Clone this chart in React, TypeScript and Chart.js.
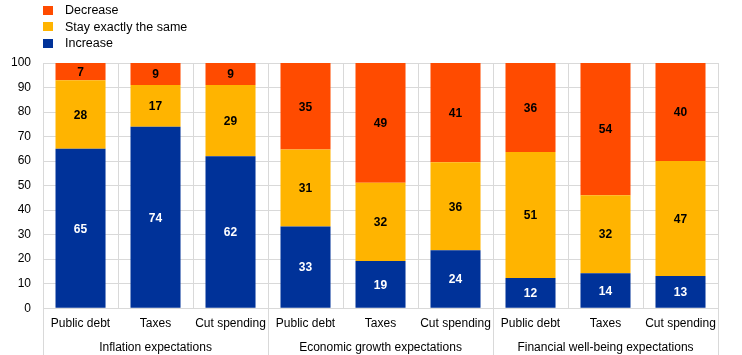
import React, { useEffect, useRef } from "react";
import { Chart, registerables } from "chart.js";

Chart.register(...registerables);

const categories = [
  "Public debt", "Taxes", "Cut spending",
  "Public debt", "Taxes", "Cut spending",
  "Public debt", "Taxes", "Cut spending",
];
const groupLabels = [
  "Inflation expectations",
  "Economic growth expectations",
  "Financial well-being expectations",
];
const increaseValues = [65, 74, 62, 33.3, 19.2, 23.6, 12.3, 14.3, 13.1];
const sameValues = [28, 17, 29, 31.4, 32, 35.9, 51.4, 31.8, 46.9];
const decreaseValues = [7, 9, 9, 35.3, 48.8, 40.5, 36.3, 53.9, 40];
const seriesNames = ["Decrease", "Stay exactly the same", "Increase"];
const yTicks = [0, 10, 20, 30, 40, 50, 60, 70, 80, 90, 100];

const COLORS = { inc: "#003299", same: "#FFB400", dec: "#FF4B00" };
const FONT = "'Liberation Sans', Arial, sans-serif";

const valueLabels = {
  id: "valueLabels",
  afterDatasetsDraw(chart: any) {
    const ctx = chart.ctx;
    ctx.save();
    ctx.font = `bold 12px ${FONT}`;
    ctx.textAlign = "center";
    ctx.textBaseline = "middle";
    chart.data.datasets.forEach((ds: any, di: number) => {
      const meta = chart.getDatasetMeta(di);
      meta.data.forEach((bar: any, i: number) => {
        const v = ds.data[i];
        const y = (bar.y + bar.base) / 2;
        ctx.fillStyle = ds.label === "Increase" ? "#ffffff" : "#000000";
        ctx.fillText(String(Math.round(v)), bar.x, y + 1);
      });
    });
    ctx.restore();
  },
};

const groupSeparators = {
  id: "groupSeparators",
  afterDraw(chart: any) {
    const ctx = chart.ctx;
    const x = chart.scales.x;
    const n = categories.length;
    const w = (x.right - x.left) / n;
    ctx.save();
    ctx.strokeStyle = "#d9d9d9";
    ctx.lineWidth = 1;
    for (let b = 0; b <= n; b += 3) {
      const px = Math.round(x.left + b * w) + 0.5;
      ctx.beginPath();
      ctx.moveTo(px, chart.chartArea.bottom);
      ctx.lineTo(px, chart.height);
      ctx.stroke();
    }
    ctx.restore();
  },
};

export default function App() {
  const ref = useRef<HTMLCanvasElement>(null);
  useEffect(() => {
    if (!ref.current) return;
    const chart = new Chart(ref.current, {
      type: "bar",
      data: {
        labels: categories,
        datasets: [
          { label: "Increase", data: increaseValues, backgroundColor: COLORS.inc },
          { label: "Stay exactly the same", data: sameValues, backgroundColor: COLORS.same },
          { label: "Decrease", data: decreaseValues, backgroundColor: COLORS.dec },
        ],
      },
      options: {
        animation: false,
        responsive: false,
        maintainAspectRatio: false,
        layout: { padding: { top: 63, left: -1, right: 24, bottom: -2 } },
        datasets: { bar: { barPercentage: 0.667, categoryPercentage: 1 } },
        plugins: { legend: { display: false }, tooltip: { enabled: false } },
        scales: {
          x: {
            stacked: true,
            grid: { offset: true, color: "#d9d9d9", drawTicks: false },
            border: { color: "#d9d9d9" },
            ticks: { color: "#000", font: { family: FONT, size: 12 }, padding: 8, maxRotation: 0, autoSkip: false },
          },
          x2: {
            type: "category",
            labels: groupLabels,
            position: "bottom",
            grid: { display: false, drawTicks: false },
            border: { display: false },
            ticks: { color: "#000", font: { family: FONT, size: 12 }, padding: 2, maxRotation: 0 },
          },
          y: {
            stacked: true,
            min: 0,
            max: 100,
            afterBuildTicks: (s: any) => { s.ticks = yTicks.map((v) => ({ value: v })); },
            grid: { color: "#d9d9d9", drawTicks: false },
            border: { color: "#d9d9d9" },
            ticks: { color: "#000", font: { family: FONT, size: 12 }, padding: 12 },
          },
        },
      },
      plugins: [valueLabels, groupSeparators],
    });
    return () => chart.destroy();
  }, []);

  const legendColors: Record<string, string> = {
    "Decrease": COLORS.dec,
    "Stay exactly the same": COLORS.same,
    "Increase": COLORS.inc,
  };

  return (
    <div style={{ position: "fixed", left: 0, top: 0, width: 742, height: 355, background: "#fff" }}>
      <canvas ref={ref} width={742} height={355} style={{ position: "absolute", left: 0, top: 0 }} />
      <div style={{ position: "absolute", left: 43, top: 2, fontFamily: FONT, fontSize: 12.5, color: "#000" }}>
        {seriesNames.map((name) => (
          <div key={name} style={{ display: "flex", alignItems: "center", height: 16.5 }}>
            <span style={{ display: "inline-block", width: 10, height: 9, background: legendColors[name], marginRight: 12 }} />
            <span>{name}</span>
          </div>
        ))}
      </div>
    </div>
  );
}
